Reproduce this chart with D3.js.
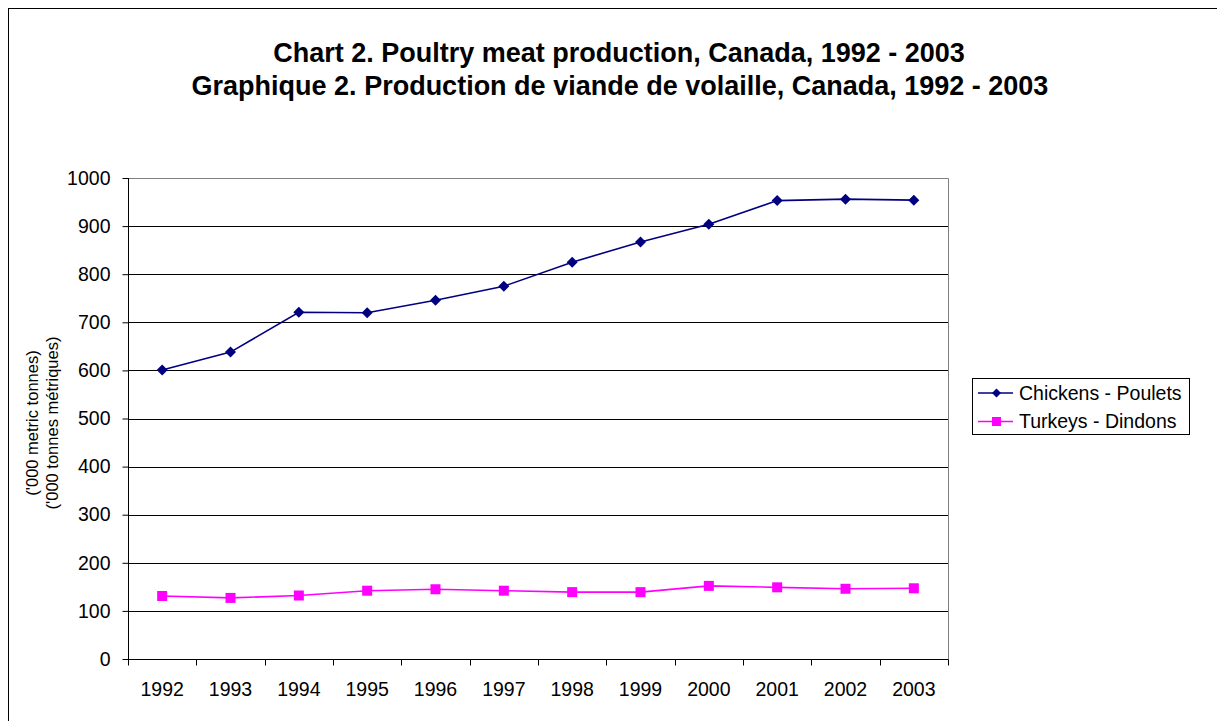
<!DOCTYPE html>
<html>
<head>
<meta charset="utf-8">
<script src="https://cdn.jsdelivr.net/npm/d3@7"></script>
<style>
  body { margin: 0; background: #fff; }
  text { font-family: Arial, "Liberation Sans", sans-serif; fill: #000; }
</style>
</head>
<body>
<div id="chart"></div>
<script>
const years = ["1992","1993","1994","1995","1996","1997","1998","1999","2000","2001","2002","2003"];
const chickens = [601, 638, 721, 720, 746, 775, 825, 867, 904, 953, 956, 954];
const turkeys = [131, 127, 132, 142, 145, 142, 139, 139, 152, 149, 146, 147];
const yTicks = [0, 100, 200, 300, 400, 500, 600, 700, 800, 900, 1000];
const seriesNames = ["Chickens - Poulets", "Turkeys - Dindons"];

const width = 1217, height = 721;
const plot = { left: 128, right: 948, top: 178, bottom: 659 };
const fontFam = "Arial, 'Liberation Sans', sans-serif";

const svg = d3.select("#chart").append("svg")
  .attr("width", width)
  .attr("height", height);

// outer chart frame
svg.append("rect")
  .attr("x", 8.5).attr("y", 8.5)
  .attr("width", width + 20).attr("height", height + 20)
  .attr("fill", "none").attr("stroke", "#000").attr("stroke-width", 1);

// titles
svg.append("text")
  .attr("x", 619).attr("y", 62)
  .attr("text-anchor", "middle")
  .attr("font-size", 27).attr("font-weight", "bold")
  .text("Chart 2. Poultry meat production, Canada, 1992 - 2003");
svg.append("text")
  .attr("x", 620).attr("y", 95)
  .attr("text-anchor", "middle")
  .attr("font-size", 27).attr("font-weight", "bold")
  .text("Graphique 2. Production de viande de volaille, Canada, 1992 - 2003");

const x = d3.scaleBand().domain(years).range([plot.left, plot.right]);
const y = d3.scaleLinear().domain([0, 1000]).range([plot.bottom, plot.top]);

// gridlines
svg.append("g")
  .selectAll("line")
  .data(yTicks.filter(d => d > 0 && d < 1000))
  .join("line")
  .attr("x1", plot.left).attr("x2", plot.right)
  .attr("y1", d => Math.round(y(d)) + 0.5).attr("y2", d => Math.round(y(d)) + 0.5)
  .attr("stroke", "#000").attr("stroke-width", 1);

// plot-area frame (top and right)
svg.append("path")
  .attr("d", `M${plot.left},${plot.top + 0.5}H${plot.right + 0.5}V${plot.bottom}`)
  .attr("fill", "none").attr("stroke", "#808080").attr("stroke-width", 1);

// y axis
const yAxis = svg.append("g")
  .attr("transform", `translate(${plot.left + 0.5},0)`)
  .call(d3.axisLeft(y).tickValues(yTicks).tickSize(6).tickPadding(12).tickFormat(d3.format("d")));
yAxis.select(".domain").attr("stroke", "#000").attr("d", `M0,${plot.top}V${plot.bottom + 0.5}`);
yAxis.selectAll(".tick line").attr("stroke", "#000");
yAxis.selectAll(".tick text").attr("font-size", 19.5).attr("font-family", fontFam).attr("fill", "#000");

// x axis
const xAxis = svg.append("g")
  .attr("transform", `translate(0,${plot.bottom + 0.5})`)
  .call(d3.axisBottom(x).tickSize(0).tickPadding(23));
xAxis.select(".domain").attr("stroke", "#000").attr("d", `M${plot.left},0H${plot.right + 0.5}`);
xAxis.selectAll(".tick text").attr("font-size", 19.5).attr("font-family", fontFam).attr("fill", "#000");
xAxis.selectAll("line.boundary")
  .data(years.map(d => x(d)).concat([plot.right]))
  .join("line")
  .attr("class", "boundary")
  .attr("x1", d => Math.round(d) + 0.5).attr("x2", d => Math.round(d) + 0.5)
  .attr("y1", 0).attr("y2", 6)
  .attr("stroke", "#000");

// y axis title
const yTitle = svg.append("text")
  .attr("transform", `translate(38,423) rotate(-90)`)
  .attr("text-anchor", "middle")
  .attr("font-size", 16.5);
yTitle.append("tspan").attr("x", 0).attr("dy", 0).text("('000 metric tonnes)");
yTitle.append("tspan").attr("x", 0).attr("dy", 20).text("('000 tonnes métriques)");

// series
const cx = d => x(d) + x.bandwidth() / 2;
const line = d3.line().x(d => cx(d.year)).y(d => y(d.value));
const chickData = years.map((yr, i) => ({ year: yr, value: chickens[i] }));
const turkData = years.map((yr, i) => ({ year: yr, value: turkeys[i] }));

svg.append("path").datum(turkData)
  .attr("d", line).attr("fill", "none").attr("stroke", "#FF00FF").attr("stroke-width", 1.6);
svg.append("g").selectAll("rect").data(turkData).join("rect")
  .attr("x", d => cx(d.year) - 5).attr("y", d => y(d.value) - 5)
  .attr("width", 10).attr("height", 10).attr("fill", "#FF00FF");

svg.append("path").datum(chickData)
  .attr("d", line).attr("fill", "none").attr("stroke", "#000080").attr("stroke-width", 1.6);
const diamond = "M0,-5.5L5.5,0L0,5.5L-5.5,0Z";
svg.append("g").selectAll("path").data(chickData).join("path")
  .attr("transform", d => `translate(${cx(d.year)},${y(d.value)})`)
  .attr("d", diamond).attr("fill", "#000080");

// legend
const legend = svg.append("g").attr("transform", "translate(972,378)");
legend.append("rect")
  .attr("x", 0.5).attr("y", 0.5).attr("width", 217).attr("height", 56)
  .attr("fill", "#fff").attr("stroke", "#000");
const legendItems = [
  { name: seriesNames[0], color: "#000080", shape: "diamond" },
  { name: seriesNames[1], color: "#FF00FF", shape: "square" }
];
legendItems.forEach((it, i) => {
  const ly = 15 + i * 28.5;
  const g = legend.append("g").attr("transform", `translate(0,${ly})`);
  g.append("line").attr("x1", 6).attr("x2", 41).attr("y1", 0).attr("y2", 0)
    .attr("stroke", it.color).attr("stroke-width", 1.6);
  if (it.shape === "diamond") {
    g.append("path").attr("transform", "translate(24.5,0)").attr("d", "M0,-4.5L4.5,0L0,4.5L-4.5,0Z").attr("fill", it.color);
  } else {
    g.append("rect").attr("x", 20).attr("y", -4.5).attr("width", 9).attr("height", 9).attr("fill", it.color);
  }
  g.append("text").attr("x", 47).attr("y", 6.5).attr("font-size", 19.5).text(it.name);
});
</script>
</body>
</html>
